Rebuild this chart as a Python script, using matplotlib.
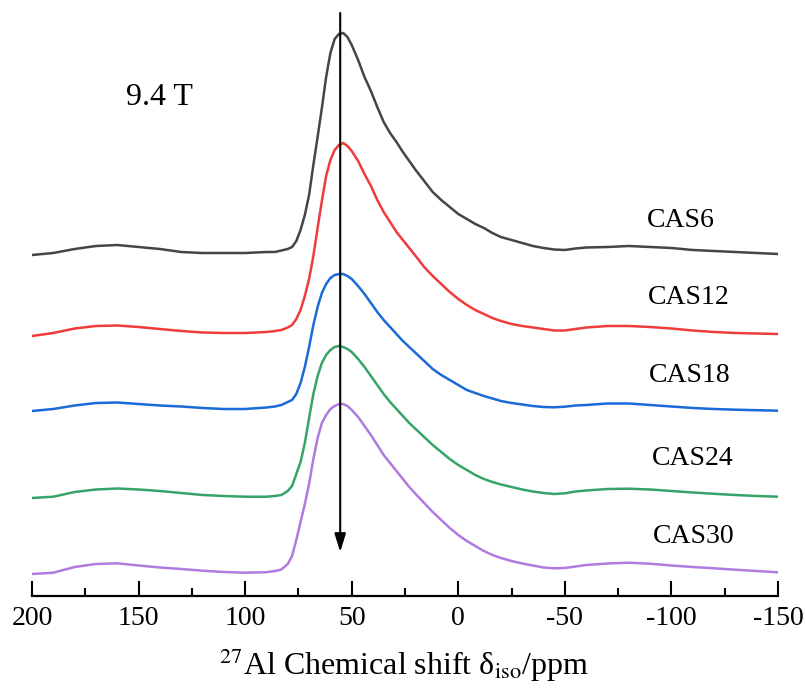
import numpy as np
from matplotlib import pyplot as plt

plt.rcParams['font.family'] = ['Liberation Serif', 'DejaVu Serif']
plt.rcParams['mathtext.fontset'] = 'stix'
plt.rcParams['axes.unicode_minus'] = False

# chemical shift grid (ppm), finer around the Al(IV) peak
ppm = np.array([200, 190, 180, 170, 160, 150, 140, 130, 120, 110, 100, 90,
                86, 83, 80,
                78, 76, 74, 72, 70, 68, 66, 64, 62, 60, 58, 56, 54, 52, 50,
                47, 44, 41, 38, 35, 32, 29, 26, 23, 20,
                16, 12, 8, 4, 0, -4, -8, -12, -16, -20,
                -25, -30, -35, -40, -45, -50, -55, -60,
                -70, -80, -90, -100, -110, -120, -130, -140, -150])

# 27Al intensities (a.u.) of each sample
cas6 = [0, 2, 6, 9, 10, 8, 6, 3, 2, 2, 2, 3,
        3, 4.5, 6,
        8, 14, 25, 40, 60, 90, 118, 147, 178, 202, 216, 221, 222, 218, 210,
        195, 178, 164, 148, 133, 122, 113, 103, 94, 85,
        74, 63, 55, 48, 41, 36, 31, 27, 22, 18,
        15, 12, 9, 7, 5.5, 5, 6.5, 7.5,
        8, 9, 8, 7, 5, 4, 3, 2, 1]
cas12 = [0, 3, 7.5, 10, 10.5, 9, 7, 5, 3.5, 3, 3, 4,
         5, 6, 8.5,
         11, 17, 26, 40, 57, 80, 108, 135, 160, 176, 186, 191, 193, 190, 185,
         175, 162, 150, 136, 124, 114, 104, 96, 88, 80,
         69, 60, 52, 44, 37, 31, 26, 22, 18, 15,
         12, 10, 8.5, 7, 5.5, 5.5, 7, 8.5,
         10, 10, 9, 7.5, 5.5, 4, 3, 2.5, 2]
cas18 = [0, 2, 5.5, 8, 8.5, 7, 5.5, 4.5, 3, 2, 2, 3.5,
         4.5, 6, 9,
         11, 17, 28, 44, 64, 86, 104, 118, 127, 133, 136, 137, 137, 135, 132,
         125, 117, 108, 99, 91, 84, 77, 70, 64, 58,
         50, 42, 36, 31, 26, 21, 18, 15, 12.5, 10,
         8, 6.5, 5, 4, 3.7, 4.3, 5.5, 6,
         7.5, 7.5, 6, 4.5, 3, 2, 1.3, 0.8, 0.3]
cas24 = [0, 1.3, 6, 8.5, 9.5, 8.5, 7, 5, 3, 2, 1.3, 1.3,
         2, 3, 7,
         12, 24, 36, 55, 80, 104, 122, 135, 143, 148, 151, 152, 151, 149, 146,
         139, 131, 122, 113, 104, 96, 89, 82, 75, 69,
         61, 53, 46, 39, 33, 28, 23, 19, 16, 13.5,
         11, 8.5, 6.5, 5, 4, 4.7, 6.5, 7.5,
         9, 9.3, 8.5, 7, 5.5, 4.2, 3, 2, 1.3]
cas30 = [0, 1.3, 7, 10, 10.7, 8.5, 6.5, 5, 3.3, 2, 1.3, 1.8,
         3, 4.5, 10,
         18, 34, 52, 70, 90, 115, 136, 151, 159, 165, 168, 170, 170, 168, 164,
         157, 148, 139, 129, 119, 111, 103, 95, 87, 80,
         71, 62, 54, 46, 39, 33, 28, 23, 19, 16,
         13, 10.5, 8.5, 6.5, 5.7, 6, 7.5, 9,
         10.5, 11.3, 10.3, 8.5, 7, 5.7, 4.3, 3, 1.7]

names = ['CAS6', 'CAS12', 'CAS18', 'CAS24', 'CAS30']
spectra = [cas6, cas12, cas18, cas24, cas30]
offsets = [341, 260, 185, 98, 22]
colors = ['#454545', '#ef3b3b', '#1a6ad8', '#36a468', '#b07ae0']

# label positions (ppm, height)
label_x = [-104.6, -108, -108.7, -110, -110.5]
label_y = [369, 292, 214, 131, 53]

peak_pos = 55.4

fig = plt.figure(figsize=(8.06, 6.88), dpi=100)
ax = fig.add_axes([32/806, 92/688, 746/806, 596/688])

for name, y, off, c, lx, ly in zip(names, spectra, offsets, colors, label_x, label_y):
    ax.plot(ppm, off + np.array(y), color=c, lw=1.8,
            solid_joinstyle='round', solid_capstyle='round')
    ax.text(lx, ly, name, fontsize=20, ha='center', va='baseline')

# arrow through the peak maxima
ax.annotate('', xy=(peak_pos, 44), xytext=(peak_pos, 583),
            arrowprops=dict(arrowstyle='-|>,head_length=0.55,head_width=0.17',
                            color='k', lw=1.5, mutation_scale=20, shrinkA=0, shrinkB=0))
ax.text(140.4, 491, '9.4 T', fontsize=23, ha='center', va='baseline')

ax.set_xlim(200, -150)
ax.set_ylim(0, 596)
for s in ['top', 'left', 'right']:
    ax.spines[s].set_visible(False)
ax.spines['bottom'].set_linewidth(1.6)
ax.set_yticks([])
ax.set_xticks(np.arange(200, -151, -50))
ax.set_xticks(np.arange(175, -150, -50), minor=True)
ax.tick_params(axis='x', which='major', direction='in', length=11, width=1.5, labelsize=20, pad=7)
ax.tick_params(axis='x', which='minor', direction='in', length=6, width=1.5)

fig.text(404.5/806, 13/688, r'$^{27}$Al Chemical shift δ$_{\mathrm{iso}}$/ppm',
         fontsize=23, ha='center', va='baseline')

fig.savefig('out.png', dpi=100)
